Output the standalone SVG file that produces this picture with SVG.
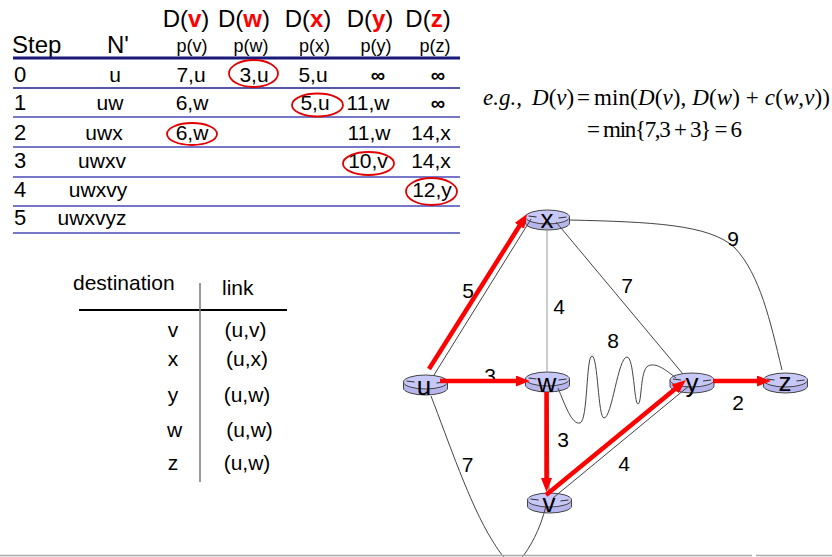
<svg xmlns="http://www.w3.org/2000/svg" width="832" height="557" viewBox="0 0 832 557">
<style>
.s{font-family:"Liberation Sans",Arial,sans-serif;fill:#000}
.h{font-size:24px;text-anchor:middle}
.p{font-size:18px;text-anchor:middle}
.c{font-size:21px;text-anchor:middle}
.inf{font-size:20px;font-weight:bold;text-anchor:middle}
.r{fill:#ff0000;font-weight:bold}
.hl{stroke:#4a4ab8;stroke-width:1.5}
.oval{fill:none;stroke:#e00000;stroke-width:1.8}
.f{font-family:"Liberation Serif","Times New Roman",serif;font-size:23px;fill:#000}
.i{font-style:italic}
.thin{fill:none;stroke:#444;stroke-width:1}
.tree{stroke:#ff0000;stroke-width:4.5;fill:none;marker-end:url(#ah)}
.el{font-family:"Liberation Sans",Arial,sans-serif;font-size:21px;text-anchor:middle;fill:#000}
.nl{font-family:"Liberation Sans",Arial,sans-serif;font-size:26px;text-anchor:middle;fill:#000}
.d{font-family:"Liberation Sans",Arial,sans-serif;font-size:21px;fill:#000}
</style>
<defs>
<marker id="ah" markerUnits="userSpaceOnUse" markerWidth="16" markerHeight="12" refX="3" refY="5.5" orient="auto">
<path d="M0,0 L14,5.5 L0,11 z" fill="#ff0000"/>
</marker>
<g id="router">
<path d="M-22,0 v6 a22,7 0 0 0 44,0 v-6" fill="#b6b6ec" stroke="#444" stroke-width="1"/>
<ellipse cx="0" cy="0" rx="22" ry="7" fill="#c8c8f8" stroke="#444" stroke-width="1"/>
<path d="M-19,-1 L-11,0 M11,1 L19,0" stroke="#333" stroke-width="1.2"/>
</g>
</defs>
<rect width="832" height="557" fill="#fff"/>

<g id="table">
<text class="s h" x="186" y="27">D(<tspan class="r">v</tspan>)</text>
<text class="s h" x="244" y="27">D(<tspan class="r">w</tspan>)</text>
<text class="s h" x="308" y="27">D(<tspan class="r">x</tspan>)</text>
<text class="s h" x="370" y="27">D(<tspan class="r">y</tspan>)</text>
<text class="s h" x="428" y="27">D(<tspan class="r">z</tspan>)</text>
<text class="s" x="12" y="53" font-size="24">Step</text>
<text class="s h" x="118" y="53">N'</text>
<text class="s p" x="192" y="52">p(v)</text>
<text class="s p" x="251" y="52">p(w)</text>
<text class="s p" x="314.5" y="52">p(x)</text>
<text class="s p" x="376" y="52">p(y)</text>
<text class="s p" x="435" y="52">p(z)</text>
<line x1="13" y1="58" x2="460" y2="58" stroke="#1a1a7a" stroke-width="3"/>
<line x1="13" y1="88" x2="460" y2="88" stroke="#1e1e8c" stroke-width="1.5"/>
<line class="hl" x1="13" y1="117" x2="460" y2="117"/>
<line class="hl" x1="13" y1="147" x2="460" y2="147"/>
<line class="hl" x1="13" y1="177" x2="460" y2="177"/>
<line class="hl" x1="13" y1="206" x2="460" y2="206"/>
<line class="hl" x1="13" y1="233" x2="460" y2="233"/>

<text class="s" x="14" y="82" font-size="22">0</text>
<text class="s c" x="115" y="82" font-size="22">u</text>
<text class="s c" x="191" y="82">7,u</text>
<text class="s c" x="254" y="82">3,u</text>
<text class="s c" x="313" y="82">5,u</text>
<text class="s inf" x="378" y="82">∞</text>
<text class="s inf" x="438" y="82">∞</text>

<text class="s" x="14" y="110" font-size="22">1</text>
<text class="s c" x="110" y="110" font-size="22">uw</text>
<text class="s c" x="192" y="110">6,w</text>
<text class="s c" x="315" y="110">5,u</text>
<text class="s c" x="368" y="110">11,w</text>
<text class="s inf" x="438" y="110">∞</text>

<text class="s" x="14" y="140" font-size="22">2</text>
<text class="s c" x="104" y="140" font-size="22">uwx</text>
<text class="s c" x="192" y="140">6,w</text>
<text class="s c" x="369" y="140">11,w</text>
<text class="s c" x="431" y="140">14,x</text>

<text class="s" x="14" y="168" font-size="22">3</text>
<text class="s c" x="102" y="168" font-size="22">uwxv</text>
<text class="s c" x="368" y="168">10,v</text>
<text class="s c" x="431" y="168">14,x</text>

<text class="s" x="14" y="197" font-size="22">4</text>
<text class="s c" x="98" y="197" font-size="22">uwxvy</text>
<text class="s c" x="432" y="197">12,y</text>

<text class="s" x="14" y="225" font-size="22">5</text>
<text class="s c" x="92" y="225" font-size="22">uwxvyz</text>

<ellipse class="oval" cx="253.5" cy="73.5" rx="24.5" ry="13.5"/>
<ellipse class="oval" cx="317.5" cy="105" rx="25.5" ry="11.5"/>
<ellipse class="oval" cx="192" cy="134" rx="25" ry="11"/>
<ellipse class="oval" cx="368.5" cy="163.5" rx="25.5" ry="11.5"/>
<ellipse class="oval" cx="431.5" cy="191.5" rx="25.5" ry="13.5"/>
</g>

<g id="formula">
<text class="f i" x="483" y="105" font-size="21">e.g.,</text>
<text class="f" x="532" y="105"><tspan class="i">D</tspan>(<tspan class="i">v</tspan>)</text>
<text class="f" x="577" y="105">=</text>
<text class="f" x="594" y="105" textLength="236" lengthAdjust="spacing">min(<tspan class="i">D</tspan>(<tspan class="i">v</tspan>), <tspan class="i">D</tspan>(<tspan class="i">w</tspan>) + <tspan class="i">c</tspan>(<tspan class="i">w</tspan>,<tspan class="i">v</tspan>))</text>
<text class="f" x="587" y="137" textLength="155" lengthAdjust="spacing">= min{7,3 + 3} = 6</text>
</g>

<g id="node-u"><use href="#router" x="425.5" y="382"/><text class="nl" x="424" y="395">u</text></g>
<g id="node-x"><use href="#router" x="547.5" y="217"/><text class="nl" x="547" y="228">x</text></g>
<g id="node-w"><use href="#router" x="547.5" y="379"/><text class="nl" x="547" y="392">w</text></g>
<g id="node-v"><use href="#router" x="549.5" y="500"/><text class="nl" x="549" y="512">v</text></g>
<g id="node-y"><use href="#router" x="692" y="380"/><text class="nl" x="692" y="392">y</text></g>
<g id="node-z"><use href="#router" x="785.5" y="380"/><text class="nl" x="785" y="391">z</text></g>

<g id="connectors">
<line class="thin" x1="434" y1="375" x2="531" y2="219"/>
<line class="thin" x1="448" y1="382" x2="525" y2="382"/>
<line x1="547" y1="228" x2="547" y2="372" stroke="#999" stroke-width="1"/>
<line class="thin" x1="556" y1="222" x2="683" y2="374"/>
<path class="thin" d="M570,220 C650,222 710,224 735,248 C760,275 770,320 782,370"/>
<path class="thin" d="M558,388 C565,405 572,425 580,423 C588,421 586,356 592,356 C598,356 598,418 604,418 C612,418 618,357 627,357 C634,357 634,404 638,404 C642,404 640,370 648,366 C656,362 666,370 676,378"/>
<line class="thin" x1="548" y1="392" x2="549" y2="493"/>
<line class="thin" x1="553" y1="498" x2="690" y2="385"/>
<line class="thin" x1="714" y1="382" x2="764" y2="382"/>
<path class="thin" d="M431,396 C448,440 470,505 492,540 C503,558 512,570 520,560 C530,548 540,530 546,506"/>

<text class="el" x="468" y="298">5</text>
<text class="el" x="490" y="383">3</text>
<text class="el" x="559" y="314">4</text>
<text class="el" x="627" y="293">7</text>
<text class="el" x="733" y="246">9</text>
<text class="el" x="613" y="348">8</text>
<text class="el" x="738" y="410">2</text>
<text class="el" x="563" y="447">3</text>
<text class="el" x="624" y="471">4</text>
<text class="el" x="467.5" y="472">7</text>

<line class="tree" x1="429" y1="369" x2="521.1" y2="223.3"/>
<line class="tree" x1="440" y1="381" x2="519" y2="381"/>
<line class="tree" x1="546.5" y1="392" x2="546.5" y2="481"/>
<line class="tree" x1="546" y1="495" x2="677.5" y2="387"/>
<line class="tree" x1="713" y1="381" x2="760" y2="381"/>
</g>

<g id="routing-table">
<text class="d" x="73" y="290">destination</text>
<text class="d" x="222" y="295" font-size="20">link</text>
<line x1="79" y1="310" x2="287" y2="310" stroke="#000" stroke-width="2"/>
<line x1="200" y1="283" x2="200" y2="482" stroke="#777" stroke-width="1.5"/>
<text class="d" x="173" y="337" text-anchor="middle">v</text>
<text class="d" x="245.5" y="337" text-anchor="middle">(u,v)</text>
<text class="d" x="173" y="366" text-anchor="middle">x</text>
<text class="d" x="247" y="366" text-anchor="middle">(u,x)</text>
<text class="d" x="173" y="402" text-anchor="middle">y</text>
<text class="d" x="247" y="402" text-anchor="middle">(u,w)</text>
<text class="d" x="174.5" y="437" text-anchor="middle">w</text>
<text class="d" x="249.5" y="437" text-anchor="middle">(u,w)</text>
<text class="d" x="173" y="470" text-anchor="middle">z</text>
<text class="d" x="247" y="470" text-anchor="middle">(u,w)</text>
</g>

<line x1="0" y1="555.5" x2="752" y2="555.5" stroke="#aaa" stroke-width="1.5"/>
<line x1="756" y1="555.5" x2="832" y2="555.5" stroke="#aaa" stroke-width="1.5"/>
</svg>
